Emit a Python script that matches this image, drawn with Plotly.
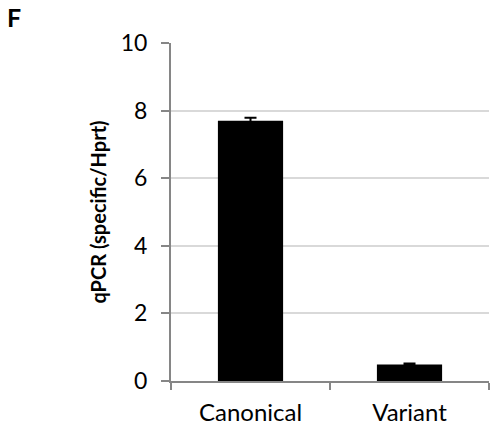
import plotly.graph_objects as go

categories = ["Canonical", "Variant"]
values = [7.70, 0.49]
errors = [0.09, 0.03]
y_ticks = [0, 2, 4, 6, 8, 10]

fig = go.Figure()
fig.add_trace(go.Bar(
    x=categories, y=values,
    marker=dict(color="black", line=dict(width=0)),
    width=0.41,
    error_y=dict(type="data", array=errors, visible=True, color="black", thickness=2, width=6),
))

axis_color = "#868686"
fig.update_layout(
    template="none",
    width=496, height=437,
    margin=dict(l=171, r=7, t=43, b=56, autoexpand=False),
    paper_bgcolor="white", plot_bgcolor="white",
    showlegend=False,
    font=dict(family="Lato", color="black"),
    xaxis=dict(
        automargin=False,
        showline=True, linecolor=axis_color, linewidth=2,
        ticks="outside", tickson="boundaries", ticklen=7, tickcolor=axis_color, tickwidth=2,
        tickfont=dict(size=24, family="Lato", color="black"),
        ticklabelstandoff=9,
        showgrid=False,
    ),
    yaxis=dict(
        automargin=False,
        range=[0, 10], tickvals=y_ticks,
        showline=True, linecolor=axis_color, linewidth=2,
        ticks="outside", ticklen=8, tickcolor=axis_color, tickwidth=2,
        tickfont=dict(size=23, family="Lato", color="black"),
        ticklabelstandoff=9,
        showgrid=True, gridcolor="#d9d9d9", gridwidth=2,
        zeroline=False,
        title=dict(text="<b>qPCR (specific/Hprt)</b>", font=dict(size=20, family="Lato", color="black"), standoff=9),
    ),
    annotations=[dict(
        text="<b>F</b>", x=0, y=1, xref="paper", yref="paper",
        xanchor="left", yanchor="top", showarrow=False,
        font=dict(size=25, family="Lato", color="black"),
        xshift=-166, yshift=43,
    )],
)

fig.write_html("out.html", post_script="document.body.style.margin='0';",
               config={"displayModeBar": False})
